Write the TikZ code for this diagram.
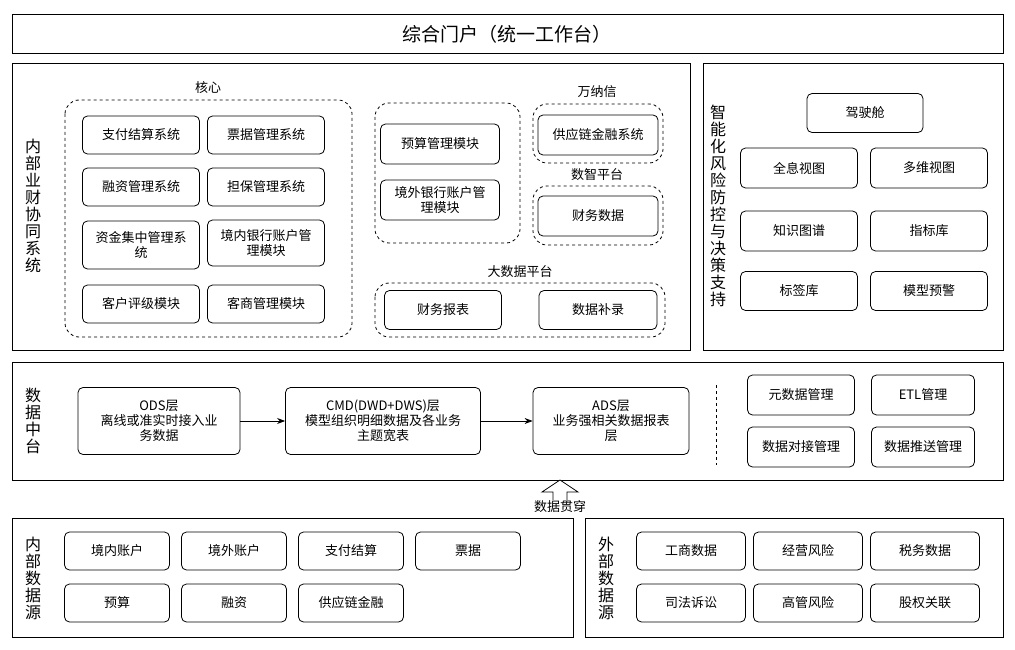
\documentclass[tikz,border=0pt]{standalone}
\usepackage{fontspec}
\setmainfont{Noto Sans CJK SC}
\usetikzlibrary{arrows.meta}
\tikzset{
  frame/.style={draw, thick},
  mod/.style={draw, thick, rounded corners=5pt, align=center, font=\fontsize{13}{15}\selectfont},
  grp/.style={draw, thick, dashed, rounded corners=14pt},
  lbl/.style={font=\fontsize{13}{15}\selectfont},
  vlbl/.style={align=center, font=\fontsize{16}{17}\selectfont, inner sep=0pt},
}
\newcommand{\modbox}[3]{\node[mod, minimum width=#2-#1, minimum height=38pt, anchor=north west] at #1 {#3};}
\begin{document}
\begin{tikzpicture}[x=1pt,y=-1pt]
  \useasboundingbox (0,0) rectangle (1015,650);

  % portal
  \draw[frame] (12,14) rectangle (1003,53);
  \node[font=\fontsize{19}{21}\selectfont] (portal) at (507,34) {综合门户（统一工作台）};

  % internal business-finance system
  \draw[frame] (12,63) rectangle (690,350);
  \node[vlbl] (inner) at (33,206) {内\\部\\业\\财\\协\\同\\系\\统};
  \draw[grp] (65,100) rectangle (352,337);
  \node[lbl] (core) at (208,88) {核心};
  \node[mod, minimum width=117pt, minimum height=38pt] (zfjs) at (141,135) {支付结算系统};
  \node[mod, minimum width=117pt, minimum height=38pt] (pjgl) at (266,135) {票据管理系统};
  \node[mod, minimum width=117pt, minimum height=38pt] (rzgl) at (141,187) {融资管理系统};
  \node[mod, minimum width=117pt, minimum height=38pt] (dbgl) at (266,187) {担保管理系统};
  \node[mod, minimum width=117pt, minimum height=48pt] (zjjz) at (141,245) {资金集中管理系\\统};
  \node[mod, minimum width=117pt, minimum height=46pt] (jnyh) at (266,243) {境内银行账户管\\理模块};
  \node[mod, minimum width=117pt, minimum height=38pt] (khpj) at (141,304) {客户评级模块};
  \node[mod, minimum width=117pt, minimum height=38pt] (ksgl) at (266,304) {客商管理模块};

  \draw[grp] (375,103) rectangle (520,243);
  \node[mod, minimum width=119pt, minimum height=40pt] (ysgl) at (440,144) {预算管理模块};
  \node[mod, minimum width=119pt, minimum height=40pt] (jwyh) at (440,200) {境外银行账户管\\理模块};

  \node[lbl] (wnx) at (597,92) {万纳信};
  \draw[grp] (533,104) rectangle (663,163);
  \node[mod, minimum width=120pt, minimum height=40pt] (gyl) at (598,135) {供应链金融系统};
  \node[lbl] (szpt) at (597,175) {数智平台};
  \draw[grp] (533,186) rectangle (663,245);
  \node[mod, minimum width=120pt, minimum height=40pt] (cwsj) at (598,216) {财务数据};

  \node[lbl] (dsj) at (520,272) {大数据平台};
  \draw[grp] (375,283) rectangle (665,337);
  \node[mod, minimum width=117pt, minimum height=39pt] (cwbb) at (443,310) {财务报表};
  \node[mod, minimum width=118pt, minimum height=39pt] (sjbl) at (598,310) {数据补录};

  % risk and decision support
  \draw[frame] (703,63) rectangle (1003,350);
  \node[vlbl] (risk) at (718,206) {智\\能\\化\\风\\险\\防\\控\\与\\决\\策\\支\\持};
  \node[mod, minimum width=116pt, minimum height=39pt] (jsc) at (865,113) {驾驶舱};
  \node[mod, minimum width=117pt, minimum height=40pt] (qxst) at (799,168) {全息视图};
  \node[mod, minimum width=117pt, minimum height=40pt] (dwst) at (929,168) {多维视图};
  \node[mod, minimum width=117pt, minimum height=40pt] (zstp) at (799,231) {知识图谱};
  \node[mod, minimum width=117pt, minimum height=40pt] (zbk) at (929,231) {指标库};
  \node[mod, minimum width=117pt, minimum height=39pt] (bqk) at (799,291) {标签库};
  \node[mod, minimum width=117pt, minimum height=39pt] (mxyj) at (929,291) {模型预警};

  % data middle platform
  \draw[frame] (12,362) rectangle (1003,480);
  \node[vlbl] (mid) at (33,421) {数\\据\\中\\台};
  \node[mod, minimum width=162pt, minimum height=67pt] (ods) at (159,421) {ODS层\\离线或准实时接入业\\务数据};
  \node[mod, minimum width=195pt, minimum height=67pt] (cmd) at (383,421) {CMD(DWD+DWS)层\\模型组织明细数据及各业务\\主题宽表};
  \node[mod, minimum width=156pt, minimum height=67pt] (ads) at (611,421) {ADS层\\业务强相关数据报表\\层};
  \draw[thick, -{Stealth[length=8pt]}] (ods) -- (cmd);
  \draw[thick, -{Stealth[length=8pt]}] (cmd) -- (ads);
  \draw[thick, dashed] (716,385) -- (716,465);
  \node[mod, minimum width=107pt, minimum height=40pt] (ysj) at (801,395) {元数据管理};
  \node[mod, minimum width=103pt, minimum height=40pt] (etl) at (923,395) {ETL管理};
  \node[mod, minimum width=107pt, minimum height=40pt] (sjdj) at (801,447) {数据对接管理};
  \node[mod, minimum width=103pt, minimum height=40pt] (sjts) at (923,447) {数据推送管理};

  % through arrow
  \coordinate (thr) at (560,513);
  \draw[thick, fill=white] (553,500) -- (553,492) -- (542,492) -- (560,480) -- (578,492) -- (567,492) -- (567,500);
  \node[lbl, fill=white, inner sep=1pt] (sjgc) at (560,507) {数据贯穿};

  % internal sources
  \draw[frame] (12,518) rectangle (573,637);
  \node[vlbl] (isrc) at (33,578) {内\\部\\数\\据\\源};
  \node[mod, minimum width=105pt, minimum height=38pt] (jnzh) at (117,551) {境内账户};
  \node[mod, minimum width=105pt, minimum height=38pt] (jwzh) at (234,551) {境外账户};
  \node[mod, minimum width=105pt, minimum height=38pt] (zfjs2) at (351,551) {支付结算};
  \node[mod, minimum width=105pt, minimum height=38pt] (pj) at (468,551) {票据};
  \node[mod, minimum width=105pt, minimum height=38pt] (ys) at (117,603) {预算};
  \node[mod, minimum width=105pt, minimum height=38pt] (rz) at (234,603) {融资};
  \node[mod, minimum width=105pt, minimum height=38pt] (gyljr) at (351,603) {供应链金融};

  % external sources
  \draw[frame] (585,518) rectangle (1003,637);
  \node[vlbl] (esrc) at (606,578) {外\\部\\数\\据\\源};
  \node[mod, minimum width=109pt, minimum height=38pt] (gs) at (691,551) {工商数据};
  \node[mod, minimum width=109pt, minimum height=38pt] (jy) at (808,551) {经营风险};
  \node[mod, minimum width=109pt, minimum height=38pt] (sw) at (925,551) {税务数据};
  \node[mod, minimum width=109pt, minimum height=38pt] (sf) at (691,603) {司法诉讼};
  \node[mod, minimum width=109pt, minimum height=38pt] (gg) at (808,603) {高管风险};
  \node[mod, minimum width=109pt, minimum height=38pt] (gq) at (925,603) {股权关联};
\end{tikzpicture}
\end{document}
